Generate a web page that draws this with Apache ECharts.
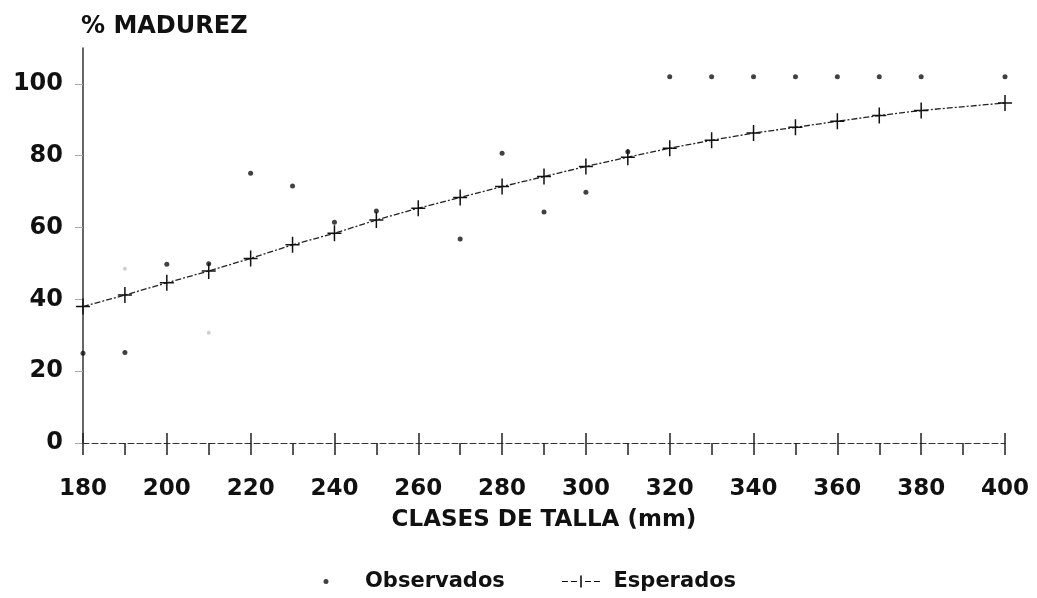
<!DOCTYPE html>
<html>
<head>
<meta charset="utf-8">
<script src="https://cdn.jsdelivr.net/npm/echarts@6/dist/echarts.min.js"></script>
<style>
  html, body { margin: 0; padding: 0; background: #fff; }
  #chart { width: 1037px; height: 598px; }
</style>
</head>
<body>
<div id="chart"></div>
<script>
// ---- data ----
const tallaEsperados = [180, 190, 200, 210, 220, 230, 240, 250, 260, 270, 280, 290, 300, 310, 320, 330, 340, 350, 360, 370, 380, 400];
const esperados      = [38, 41.2, 44.6, 47.9, 51.4, 55.2, 58.4, 62.1, 65.4, 68.4, 71.4, 74.2, 77.0, 79.6, 82.1, 84.3, 86.3, 87.9, 89.6, 91.2, 92.6, 94.7];

const tallaObservados = [180, 190, 200, 210, 220, 230, 240, 250, 270, 280, 290, 300, 310, 320, 330, 340, 350, 360, 370, 380, 400];
const observados      = [25, 25.2, 49.8, 49.9, 75.1, 71.6, 61.5, 64.6, 56.8, 80.7, 64.3, 69.8, 81.1, 102, 102, 102, 102, 102, 102, 102, 102];

const tallaTenues = [190, 210];
const tenues      = [48.5, 30.7];

const yTicks = [0, 20, 40, 60, 80, 100];

const FONT = '"DejaVu Sans", "Liberation Sans", sans-serif';

const zip = (xs, ys) => xs.map((x, i) => [x, ys[i]]);

const plusSymbol = 'path://M6.25,0h1.5v16h-1.5z M0,7.25h14v1.5h-14z';
const legendEsp = 'path://M0,5.5h6v1h-6z M9,5.5h6v1h-6z M18.2,0h1.6v12h-1.6z M23,5.5h6v1h-6z M32,5.5h6v1h-6z';
// small dot centred in a wide (68 x 6) box; the corner specks only fix the box
const legendObs = 'path://M0,0h0.02v0.02h-0.02z M31.5,3a2.5,2.5 0 1,0 5,0a2.5,2.5 0 1,0 -5,0z M67.98,5.98h0.02v0.02h-0.02z';

const chart = echarts.init(document.getElementById('chart'), null, { renderer: 'canvas' });

chart.setOption({
  backgroundColor: '#ffffff',
  animation: false,
  title: {
    text: '% MADUREZ',
    left: 76, top: 10,
    textStyle: { fontFamily: FONT, fontWeight: 'bold', fontSize: 24, color: '#111' }
  },
  legend: [
    {
      data: [{ name: 'Observados', icon: legendObs }],
      left: 287, top: 566,
      itemWidth: 68, itemHeight: 6,
      textStyle: { fontFamily: FONT, fontWeight: 'bold', fontSize: 21, color: '#111' }
    },
    {
      data: [{ name: 'Esperados', icon: legendEsp }],
      left: 557, top: 566,
      itemWidth: 55, itemHeight: 12,
      textStyle: { fontFamily: FONT, fontWeight: 'bold', fontSize: 21, color: '#111' }
    }
  ],
  grid: { left: 83, right: 32, top: 48, bottom: 155, containLabel: false },
  xAxis: [
    {
      type: 'value', min: 180, max: 400, interval: 10, position: 'bottom',
      name: 'CLASES DE TALLA (mm)', nameLocation: 'middle', nameGap: 66,
      nameTextStyle: { fontFamily: FONT, fontWeight: 'bold', fontSize: 23, color: '#111' },
      axisLine: { show: true, lineStyle: { color: '#333', width: 1, type: [6, 3] } },
      axisTick: { show: true, inside: false, length: 12, lineStyle: { color: '#222', width: 1.5 } },
      axisLabel: {
        margin: 35, fontFamily: FONT, fontWeight: 'bold', fontSize: 23, color: '#111',
        formatter: v => (v % 20 === 0 ? String(v) : '')
      },
      splitLine: { show: false }
    },
    {
      type: 'value', min: 180, max: 400, interval: 20, position: 'bottom',
      axisLine: { show: false },
      axisTick: { show: true, inside: true, length: 10, lineStyle: { color: '#222', width: 1.5 } },
      axisLabel: { show: false },
      splitLine: { show: false }
    }
  ],
  yAxis: {
    type: 'value', min: 0, max: 110, interval: 20,
    axisLine: { show: true, onZero: false, lineStyle: { color: '#333', width: 1.5 } },
    axisTick: { show: true, length: 8, lineStyle: { color: '#aaa', width: 1 } },
    axisLabel: {
      margin: 20, fontFamily: FONT, fontWeight: 'bold', fontSize: 24, color: '#111',
      showMaxLabel: false,
      formatter: v => (yTicks.indexOf(v) >= 0 ? String(v) : '')
    },
    splitLine: { show: false }
  },
  series: [
    {
      name: 'Observados', type: 'scatter',
      data: zip(tallaObservados, observados),
      symbol: 'circle', symbolSize: 5,
      itemStyle: { color: '#111' }
    },
    {
      name: 'Observados', type: 'scatter',
      data: zip(tallaTenues, tenues),
      symbol: 'circle', symbolSize: 4,
      itemStyle: { color: '#c4c4c4' }
    },
    {
      name: 'Esperados', type: 'line',
      data: zip(tallaEsperados, esperados),
      symbol: plusSymbol, symbolSize: [14, 16], showSymbol: true,
      itemStyle: { color: '#111' },
      lineStyle: { color: '#222', width: 1.3, type: [6, 2, 2, 2] },
      z: 3
    }
  ]
});
</script>
</body>
</html>
